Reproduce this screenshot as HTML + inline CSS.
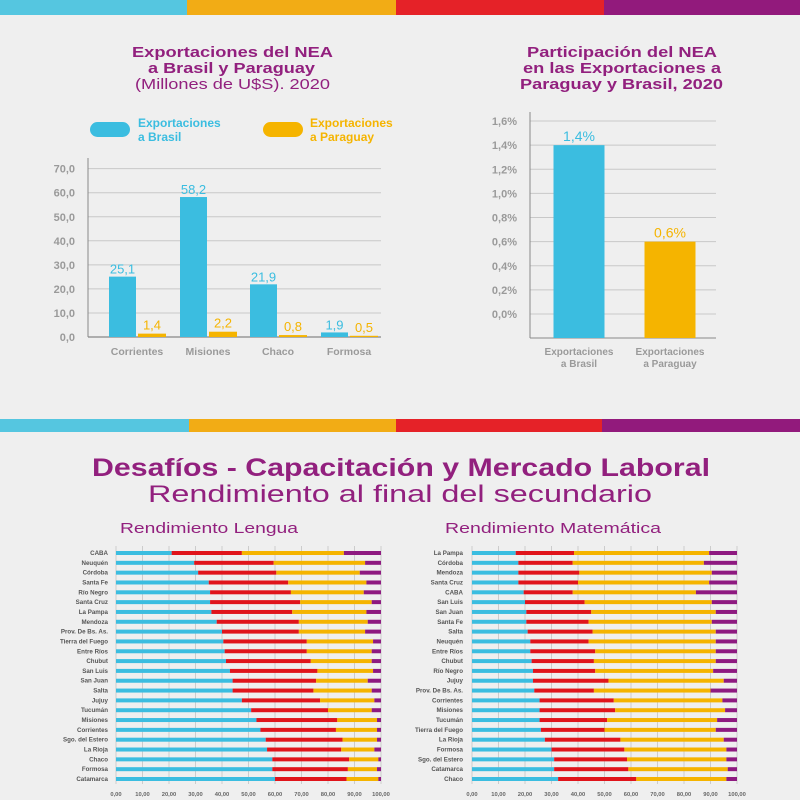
<!DOCTYPE html>
<html><head><meta charset="utf-8">
<style>
body{margin:0;width:800px;height:800px;background:#efefef;font-family:"Liberation Sans",sans-serif;overflow:hidden}
svg{display:block}
</style></head>
<body>
<svg id="svg" width="800" height="800" viewBox="0 0 800 800" xmlns="http://www.w3.org/2000/svg">
<rect x="0" y="0" width="800" height="800" fill="#efefef"/>
<g>
<rect x="0" y="0" width="187" height="15" fill="#55c6e0"/><rect x="187" y="0" width="209" height="15" fill="#f2ac15"/><rect x="396" y="0" width="208" height="15" fill="#e52228"/><rect x="604" y="0" width="196" height="15" fill="#921a7c"/>
</g>
<g>
<rect x="0" y="419" width="189" height="13" fill="#55c6e0"/><rect x="189" y="419" width="207" height="13" fill="#f2ac15"/><rect x="396" y="419" width="206" height="13" fill="#e52228"/><rect x="602" y="419" width="198" height="13" fill="#921a7c"/>
</g>
<g fill="#92207e" font-weight="bold" font-size="15" lengthAdjust="spacingAndGlyphs">
<text x="132" y="57" textLength="201" lengthAdjust="spacingAndGlyphs">Exportaciones del NEA</text>
<text x="148" y="73" textLength="167" lengthAdjust="spacingAndGlyphs">a Brasil y Paraguay</text>
<text x="135" y="89" textLength="195" lengthAdjust="spacingAndGlyphs" font-weight="normal">(Millones de U$S). 2020</text>
<text x="527" y="57" textLength="190" lengthAdjust="spacingAndGlyphs">Participación del NEA</text>
<text x="523" y="73" textLength="198" lengthAdjust="spacingAndGlyphs">en las Exportaciones a</text>
<text x="520" y="89" textLength="203" lengthAdjust="spacingAndGlyphs">Paraguay y Brasil, 2020</text>
</g>
<g font-size="12" font-weight="bold">
<rect x="90" y="122" width="40" height="15" rx="7.5" fill="#3bbde0"/>
<text x="138" y="127" fill="#3bbde0">Exportaciones<tspan x="138" dy="14">a Brasil</tspan></text>
<rect x="263" y="122" width="40" height="15" rx="7.5" fill="#f5b400"/>
<text x="310" y="127" fill="#f5b400">Exportaciones<tspan x="310" dy="14">a Paraguay</tspan></text>
</g>
<g id="c1"></g>
<g id="c2"></g>
<g fill="#92207e">
<text x="92" y="476" font-size="25" font-weight="bold" textLength="618" lengthAdjust="spacingAndGlyphs">Desafíos - Capacitación y Mercado Laboral</text>
<text x="148" y="502" font-size="24" textLength="504" lengthAdjust="spacingAndGlyphs">Rendimiento al final del secundario</text>
<text x="120" y="533" font-size="15" textLength="178" lengthAdjust="spacingAndGlyphs">Rendimiento Lengua</text>
<text x="445" y="533" font-size="15" textLength="216" lengthAdjust="spacingAndGlyphs">Rendimiento Matemática</text>
</g>
<g id="c3"></g>
<g id="c4"></g>
</svg>
<script>
const expCategories=["Corrientes","Misiones","Chaco","Formosa"];
const expBrasil=[25.1,58.2,21.9,1.9];
const expParaguay=[1.4,2.2,0.8,0.5];
const expTicks=[0,10,20,30,40,50,60,70];
const shareCategories=[["Exportaciones","a Brasil"],["Exportaciones","a Paraguay"]];
const shareValues=[1.4,0.6];
const shareTicks=[0,0.2,0.4,0.6,0.8,1.0,1.2,1.4,1.6];
const lenguaProvinces=["CABA","Neuquén","Córdoba","Santa Fe","Río Negro","Santa Cruz","La Pampa","Mendoza","Prov. De Bs. As.","Tierra del Fuego","Entre Ríos","Chubut","San Luis","San Juan","Salta","Jujuy","Tucumán","Misiones","Corrientes","Sgo. del Estero","La Rioja","Chaco","Formosa","Catamarca"];
const lenguaLevel1=[21,29.5,31,35,35.5,35.5,36,38,40,40.5,41,41.5,43,44,44,47.5,51,53,54.5,56.5,57,59,59,60];
const lenguaLevel2=[26.5,30,29.5,30,30.5,34,30.5,31,29,31.5,31,32,33,31.5,30.5,29.5,29,30.5,28.5,29,28,29,28.5,27];
const lenguaLevel3=[38.5,34.5,31.5,29.5,27.5,27,28,26,25,25,24.5,23,21,19.5,22,20.5,16.5,15,15.5,13,12.5,11,11,12];
const matProvinces=["La Pampa","Córdoba","Mendoza","Santa Cruz","CABA","San Luis","San Juan","Santa Fe","Salta","Neuquén","Entre Ríos","Chubut","Río Negro","Jujuy","Prov. De Bs. As.","Corrientes","Misiones","Tucumán","Tierra del Fuego","La Rioja","Formosa","Sgo. del Estero","Catamarca","Chaco"];
const matLevel1=[16.5,17.5,17.5,17.5,19.5,20,20.5,20.5,21,22,22,22.5,23,23,23.5,25.5,25.5,25.5,26,27.5,30,31,31,32.5];
const matLevel2=[22,20.5,23,22.5,18.5,22.5,24.5,23.5,24.5,22,24.5,23.5,23.5,28.5,22.5,28,28.5,25.5,24,28.5,27.5,27.5,28,29.5];
const matLevel3=[51,49.5,50,49.5,46.5,48,47,46.5,46.5,48,45.5,46,44.5,43.5,44,41,41.5,41.5,42,39,38.5,37.5,37.5,34];
const xTicks=[0,10,20,30,40,50,60,70,80,90,100];

const NS="http://www.w3.org/2000/svg";
function mk(parent,tag,attrs,text){const e=document.createElementNS(NS,tag);for(const k in attrs)e.setAttribute(k,attrs[k]);if(text!==undefined)e.textContent=text;parent.appendChild(e);return e;}
const fmt=v=>v.toFixed(1).replace('.',',');
const BLUE="#3bbde0",YEL="#f5b400",RED="#e0141b",PUR="#8e1a80",GRAY="#9a9a9a";

// Chart 1
(function(){
const g=document.getElementById('c1');
const y=v=>337-v*2.405; const L=88,R=381;
const cx=[137,208,278,349];
expTicks.forEach(t=>{
 let e=mk(g,'line',{x1:L,x2:R,y1:y(t),y2:y(t),stroke:t===0?'#888':'#c8c8c8','stroke-width':t===0?1.2:1});
 
 e=mk(g,'text',{x:75,y:y(t)+4,'text-anchor':'end','font-size':11,'font-weight':'bold',fill:GRAY},fmt(t));
 
});
let ax=mk(g,'line',{x1:L,x2:L,y1:158,y2:337,stroke:'#888'});

expCategories.forEach((c,i)=>{
 let b=mk(g,'rect',{x:cx[i]-28,y:y(expBrasil[i]),width:27,height:337-y(expBrasil[i]),fill:BLUE});
 
 let t=mk(g,'text',{x:cx[i]-14.5,y:y(expBrasil[i])-3,'text-anchor':'middle','font-size':13,fill:BLUE},fmt(expBrasil[i]));
 
 b=mk(g,'rect',{x:cx[i]+1,y:y(expParaguay[i]),width:28,height:337-y(expParaguay[i]),fill:YEL});
 
 t=mk(g,'text',{x:cx[i]+15,y:y(expParaguay[i])-4,'text-anchor':'middle','font-size':13,fill:YEL},fmt(expParaguay[i]));
 
 t=mk(g,'text',{x:cx[i],y:355,'text-anchor':'middle','font-size':10.5,'font-weight':'bold',fill:GRAY},c);
 
});
})();

// Chart 2
(function(){
const g=document.getElementById('c2');
const base=338; const ty=t=>314-t*120.6;
const L=530,R=716;
shareTicks.forEach(t=>{
 let e=mk(g,'line',{x1:L,x2:R,y1:ty(t),y2:ty(t),stroke:'#c8c8c8'});
 
 e=mk(g,'text',{x:517,y:ty(t)+4,'text-anchor':'end','font-size':11,'font-weight':'bold',fill:GRAY},t.toFixed(1).replace('.',',')+'%');
 
});
let ax=mk(g,'line',{x1:L,x2:L,y1:112,y2:base,stroke:'#888'});

ax=mk(g,'line',{x1:L,x2:R,y1:base,y2:base,stroke:'#888'});

const cx=[579,670],cols=[BLUE,YEL];
shareValues.forEach((v,i)=>{
 let b=mk(g,'rect',{x:cx[i]-25.5,y:ty(v),width:51,height:base-ty(v),fill:cols[i]});
 
 let t=mk(g,'text',{x:cx[i],y:ty(v)-4,'text-anchor':'middle','font-size':14,fill:cols[i]},v.toFixed(1).replace('.',',')+'%');
 
 t=mk(g,'text',{x:cx[i],y:355,'text-anchor':'middle','font-size':10,'font-weight':'bold',fill:GRAY},shareCategories[i][0]);
 
 t=mk(g,'text',{x:cx[i],y:367,'text-anchor':'middle','font-size':10,'font-weight':'bold',fill:GRAY},shareCategories[i][1]);
 
});
})();

// Stacked charts
function stacked(id,provs,a,b,c,x0,x1,labX){
 const g=document.getElementById(id);
 const x=v=>x0+v/100*(x1-x0);
 const top=553,step=(779-553)/23;
 xTicks.forEach(t=>{
  let e=mk(g,'line',{x1:x(t),x2:x(t),y1:546,y2:784,stroke:'#c4c4c4','stroke-width':0.8});
  
  e=mk(g,'text',{x:x(t),y:796,'text-anchor':'middle','font-size':5.8,'font-weight':'bold',fill:'#666'},t.toFixed(2).replace('.',','));
  
 });
 provs.forEach((p,i)=>{
  const yy=top+i*step;
  let t=mk(g,'text',{x:labX,y:yy+2,'text-anchor':'end','font-size':6.2,'font-weight':'bold',fill:'#555'},p);
  
  const d=100-a[i]-b[i]-c[i];
  const segs=[a[i],b[i],c[i],d],cols=[BLUE,RED,YEL,PUR];let acc=0;
  segs.forEach((s,k)=>{
   const r=mk(g,'rect',{x:x(acc),y:yy-2,width:Math.max(0,x(acc+s)-x(acc)),height:4,fill:cols[k]});
   
   acc+=s;
  });
 });
}
stacked('c3',lenguaProvinces,lenguaLevel1,lenguaLevel2,lenguaLevel3,116,381,108);
stacked('c4',matProvinces,matLevel1,matLevel2,matLevel3,472,737,463);
</script>
</body></html>
